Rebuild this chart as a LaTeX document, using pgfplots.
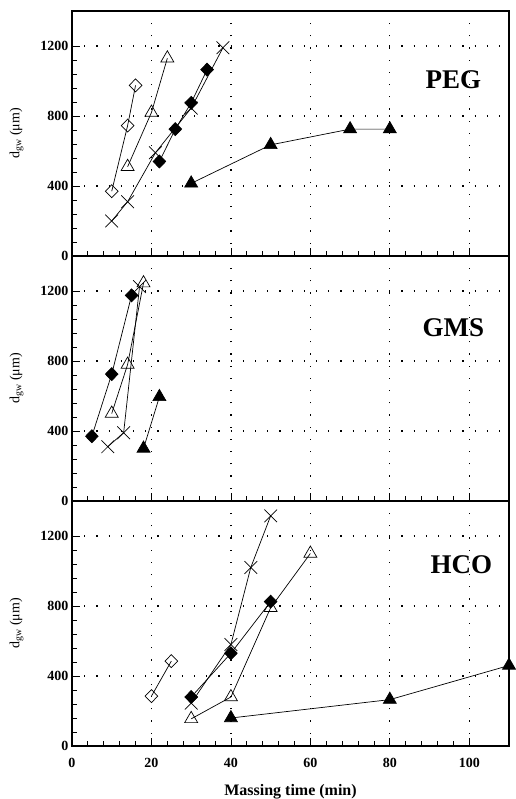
\documentclass[border=0pt]{standalone}
\usepackage{fontspec}
\setmainfont{Liberation Serif}
\usepackage{pgfplots}
\pgfplotsset{compat=1.18}
\pgfplotsset{
  panel/.style={
    width=437pt, height=245pt, scale only axis,
    xmin=0, xmax=110, ymin=0, ymax=1400,
    xtick={0,20,...,100}, ytick={0,400,800,1200},
    minor x tick num=4, minor y tick num=4,
    tick align=inside, xtick pos=bottom, ytick pos=left,
    major tick length=8pt, minor tick length=5pt,
    tick style={black, line width=0.8pt},
    axis line style={black, line width=1.1pt},
    grid=major, major grid style={black, line width=1.2pt, dash pattern=on 1.2pt off 11pt},
    tick label style={font=\fontsize{14}{14}\selectfont\bfseries},
    xticklabel style={yshift=-9pt},
    /pgf/number format/assume math mode=true,
    /pgf/number format/1000 sep={},
    ylabel={d\textsubscript{gw} (μm)},
    ylabel style={font=\fontsize{14}{14}\selectfont, yshift=10pt},
  },
  openD/.style={black, line width=0.7pt, mark=diamond, mark size=6.5pt, mark options={fill=white, solid, xscale=1.3}},
  fillD/.style={black, line width=0.7pt, mark=diamond*, mark size=6.5pt, mark options={fill=black, solid, xscale=1.3}},
  openT/.style={black, line width=0.7pt, mark=triangle, mark size=7.5pt, mark options={fill=white, solid}},
  fillT/.style={black, line width=0.7pt, mark=triangle*, mark size=7.5pt, mark options={fill=black, solid}},
  crossM/.style={black, line width=0.7pt, mark=x, mark size=9pt, mark options={solid}},
}
\begin{document}
\begin{tikzpicture}
% PEG
\begin{axis}[panel, at={(0,490pt)}, anchor=south west, xticklabels={}]
\addplot[openD] coordinates {(10,370) (14,745) (16,975)};
\addplot[openT] coordinates {(14,510) (20,820) (24,1130)};
\addplot[crossM] coordinates {(10,200) (14,310) (21,590) (30,845) (38,1190)};
\addplot[fillD] coordinates {(22,540) (26,725) (30,875) (34,1065)};
\addplot[fillT] coordinates {(30,415) (50,635) (70,725) (80,725)};
\node[font=\fontsize{27}{27}\selectfont\bfseries] at (axis cs:96,1010) {PEG};
\end{axis}
% GMS
\begin{axis}[panel, at={(0,245pt)}, anchor=south west, xticklabels={}]
\addplot[fillD] coordinates {(5,370) (10,725) (15,1175)};
\addplot[openT] coordinates {(10,500) (14,780) (18,1245)};
\addplot[crossM] coordinates {(9,310) (13,390) (17,1225)};
\addplot[fillT] coordinates {(18,300) (22,595)};
\node[font=\fontsize{27}{27}\selectfont\bfseries] at (axis cs:96,990) {GMS};
\end{axis}
% HCO
\begin{axis}[panel, at={(0,0)}, anchor=south west,
  xlabel={Massing time (min)},
  xlabel style={font=\fontsize{16}{16}\selectfont\bfseries, yshift=-10pt}]
\addplot[openD] coordinates {(20,285) (25,485)};
\addplot[crossM] coordinates {(30,245) (40,580) (45,1020) (50,1315)};
\addplot[openT] coordinates {(30,155) (40,280) (50,790) (60,1100)};
\addplot[fillD] coordinates {(30,280) (40,530) (50,825)};
\addplot[fillT] coordinates {(40,160) (80,265) (110,460)};
\node[font=\fontsize{27}{27}\selectfont\bfseries] at (axis cs:98,1037) {HCO};
\end{axis}
\pgfresetboundingbox
\path (-72pt,-53pt) rectangle (443pt,746pt);
\end{tikzpicture}
\end{document}
